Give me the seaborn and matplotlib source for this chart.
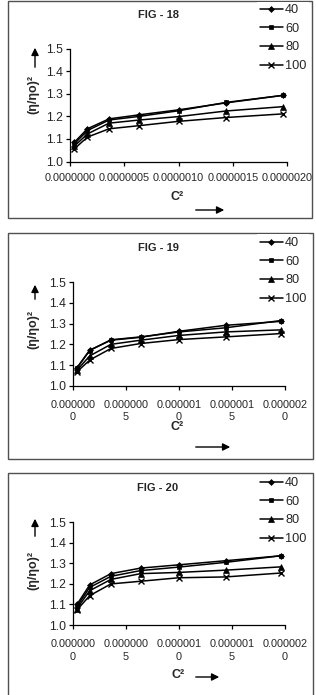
import numpy as np
import pandas as pd
import matplotlib
matplotlib.use("Agg")
import matplotlib.pyplot as plt
import seaborn as sns
from matplotlib.patches import Rectangle, FancyArrowPatch

# ---------------- data ----------------
c2 = [0.04e-6, 0.16e-6, 0.36e-6, 0.64e-6, 1.00e-6, 1.44e-6, 1.96e-6]
temps = ["40", "60", "80", "100"]

fig18_40 = [1.085, 1.145, 1.189, 1.207, 1.229, 1.260, 1.293]
fig18_60 = [1.078, 1.137, 1.184, 1.200, 1.225, 1.262, 1.293]
fig18_80 = [1.068, 1.122, 1.170, 1.184, 1.199, 1.224, 1.243]
fig18_100 = [1.056, 1.108, 1.145, 1.159, 1.178, 1.195, 1.211]

fig19_40 = [1.087, 1.172, 1.220, 1.234, 1.263, 1.292, 1.311]
fig19_60 = [1.085, 1.170, 1.222, 1.236, 1.260, 1.280, 1.315]
fig19_80 = [1.075, 1.144, 1.200, 1.220, 1.243, 1.260, 1.270]
fig19_100 = [1.067, 1.124, 1.180, 1.204, 1.223, 1.236, 1.252]

fig20_40 = [1.100, 1.195, 1.250, 1.277, 1.293, 1.313, 1.337]
fig20_60 = [1.090, 1.183, 1.237, 1.265, 1.282, 1.305, 1.337]
fig20_80 = [1.080, 1.167, 1.222, 1.250, 1.256, 1.267, 1.283]
fig20_100 = [1.073, 1.143, 1.200, 1.213, 1.230, 1.234, 1.253]

titles = ["FIG - 18", "FIG - 19", "FIG - 20"]
xticks = [0, 0.5e-6, 1.0e-6, 1.5e-6, 2.0e-6]
xlabels_18 = ["0.0000000", "0.0000005", "0.0000010", "0.0000015", "0.0000020"]
xlabels_wrap = ["0.000000\n0", "0.000000\n5", "0.000001\n0", "0.000001\n5", "0.000002\n0"]
yticks = [1.0, 1.1, 1.2, 1.3, 1.4, 1.5]

panels = [
    [fig18_40, fig18_60, fig18_80, fig18_100],
    [fig19_40, fig19_60, fig19_80, fig19_100],
    [fig20_40, fig20_60, fig20_80, fig20_100],
]

# ---------------- style ----------------
sns.set_style("white")
plt.rcParams["font.family"] = ["Liberation Sans", "DejaVu Sans"]

W, H = 316, 695
fig = plt.figure(figsize=(W / 100, H / 100), dpi=100)
fig.patch.set_facecolor("white")


def fx(p):
    return p / W


def fy(p):
    return 1 - p / H


markers = ["D", "s", "^", "x"]
msizes = [3.0, 3.2, 4.0, 4.2]

layout = [
    dict(ax=(70, 287, 48.7, 161.5), box=(8, 312, 1, 218), title_y=15, ylab_y=95,
         varr=(70, 45), harr_y=210, harr_x=(193, 227), c2=(177, 197),
         leg_top=1.5, xl=xlabels_18, pad=5),
    dict(ax=(72.7, 285, 282.3, 385.7), box=(8, 313, 233, 459), title_y=248, ylab_y=330,
         varr=(302, 282), harr_y=447, harr_x=(193, 233), c2=(177, 427),
         leg_top=234.5, xl=xlabels_wrap, pad=7),
    dict(ax=(72.7, 285, 522.3, 625), box=(8, 313, 473, 720), title_y=488, ylab_y=570,
         varr=(539, 516), harr_y=677, harr_x=(193, 222), c2=(178, 675),
         leg_top=474.5, xl=xlabels_wrap, pad=7),
]

for i, (series, L) in enumerate(zip(panels, layout)):
    l, r, t, b = L["ax"]
    bx0, bx1, by0, by1 = L["box"]
    fig.add_artist(Rectangle((fx(bx0), fy(by1)), (bx1 - bx0) / W, (by1 - by0) / H,
                             transform=fig.transFigure, fill=False,
                             edgecolor="#505050", lw=1.0, zorder=-1))
    ax = fig.add_axes([fx(l), fy(b), (r - l) / W, (b - t) / H])
    ax.set_facecolor("none")
    df = pd.DataFrame({"C2": np.tile(c2, 4),
                       "val": np.concatenate(series),
                       "T": np.repeat(temps, len(c2))})
    for j, tlab in enumerate(temps):
        sub = df[df["T"] == tlab]
        sns.lineplot(data=sub, x="C2", y="val", ax=ax, color="black", lw=1.1,
                     marker=markers[j], markersize=msizes[j],
                     markeredgewidth=1.0 if markers[j] == "x" else 0.5,
                     markeredgecolor="black", label=tlab, zorder=3)
    ax.set_xlim(0, 2e-6)
    ax.set_ylim(1.0, 1.5)
    ax.set_xticks(xticks)
    ax.set_xticklabels(L["xl"], fontsize=7.8, linespacing=1.35)
    ax.set_yticks(yticks)
    ax.set_yticklabels([f"{v:.1f}" for v in yticks], fontsize=8.8)
    ax.set_xlabel("")
    ax.set_ylabel("")
    for s in ["top", "right"]:
        ax.spines[s].set_visible(False)
    for s in ["left", "bottom"]:
        ax.spines[s].set_color("black")
        ax.spines[s].set_linewidth(0.9)
    ax.tick_params(axis="both", direction="out", length=3, width=0.9,
                   color="black", pad=2, left=True, bottom=True)
    ax.tick_params(axis="x", pad=L["pad"])

    leg = ax.legend(loc="upper left", bbox_to_anchor=(fx(257), fy(L["leg_top"])),
                    bbox_transform=fig.transFigure, frameon=True, fontsize=9.2,
                    handlelength=1.8, handletextpad=0.2, labelspacing=0.52,
                    borderpad=0.2, borderaxespad=0)
    leg.get_frame().set_facecolor("white")
    leg.get_frame().set_edgecolor("none")
    leg.get_frame().set_alpha(1)
    leg.get_frame().set_boxstyle("square", pad=0)

    fig.text(fx(158), fy(L["title_y"]), titles[i], ha="center", va="center",
             fontsize=8, fontweight="bold")
    fig.text(fx(33), fy(L["ylab_y"]), "(η/ηo)²", ha="center", va="center",
             rotation=90, fontsize=9, fontweight="bold")
    fig.text(fx(L["c2"][0]), fy(L["c2"][1]), "C²", ha="center", va="center",
             fontsize=9, fontweight="bold")
    y0, y1 = L["varr"]
    fig.add_artist(FancyArrowPatch((fx(35), fy(y0)), (fx(35), fy(y1)),
                                   transform=fig.transFigure, arrowstyle="-|>",
                                   mutation_scale=11, color="black", lw=1.0))
    x0, x1 = L["harr_x"]
    fig.add_artist(FancyArrowPatch((fx(x0), fy(L["harr_y"])), (fx(x1), fy(L["harr_y"])),
                                   transform=fig.transFigure, arrowstyle="-|>",
                                   mutation_scale=11, color="black", lw=1.0))

fig.savefig("out.png", dpi=100, facecolor="white")
